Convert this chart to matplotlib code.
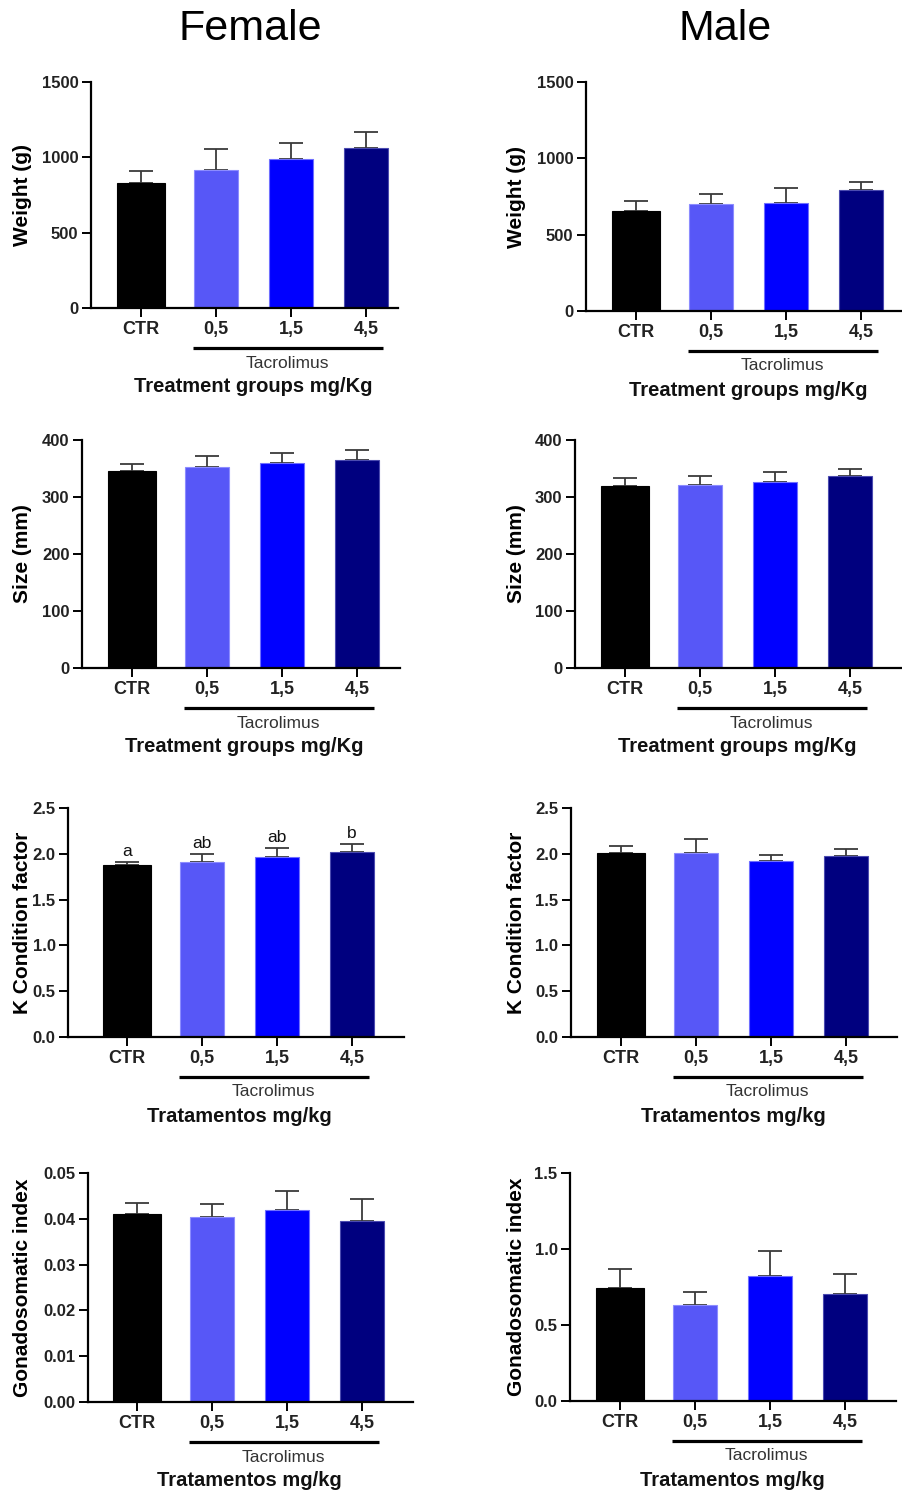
import matplotlib
matplotlib.use('Agg')
import matplotlib.pyplot as plt
import matplotlib.transforms as mtransforms
from matplotlib.ticker import FormatStrFormatter

plt.rcParams['font.family'] = ['Liberation Sans', 'DejaVu Sans']

# groups and colours
groups = ['CTR', '0,5', '1,5', '4,5']
bar_colors = ['#000000', '#5757F7', '#0000FF', '#00007F']

# values (mean and upper error)
female_weight = [827, 916, 987, 1060]
female_weight_err = [82, 137, 106, 106]
male_weight = [655, 699, 705, 793]
male_weight_err = [63, 65, 101, 52]

female_size = [346, 353, 360, 365]
female_size_err = [12, 19, 18, 17]
male_size = [319, 321, 326, 337]
male_size_err = [14, 16, 17, 12]

female_k = [1.874, 1.907, 1.962, 2.023]
female_k_err = [0.036, 0.091, 0.098, 0.081]
female_k_letters = ['a', 'ab', 'ab', 'b']
male_k = [2.005, 2.005, 1.921, 1.976]
male_k_err = [0.080, 0.153, 0.066, 0.073]

female_gsi = [0.0411, 0.0403, 0.0419, 0.0396]
female_gsi_err = [0.0024, 0.0029, 0.0042, 0.0047]
male_gsi = [0.746, 0.634, 0.825, 0.704]
male_gsi_err = [0.125, 0.083, 0.162, 0.134]

W, H = 902, 1495
fig = plt.figure(figsize=(W / 100, H / 100), dpi=100)

# panel layout in pixels: left, right, top, bottom, centre of first bar
panels = [
    (91, 398, 82, 308, 141, female_weight, female_weight_err, 'Weight (g)', 'Treatment groups mg/Kg', [0, 500, 1000, 1500], '%d', None),
    (586, 902, 82, 311, 636, male_weight, male_weight_err, 'Weight (g)', 'Treatment groups mg/Kg', [0, 500, 1000, 1500], '%d', None),
    (82, 400, 440, 668, 132, female_size, female_size_err, 'Size (mm)', 'Treatment groups mg/Kg', [0, 100, 200, 300, 400], '%d', None),
    (575, 901, 440, 668, 625, male_size, male_size_err, 'Size (mm)', 'Treatment groups mg/Kg', [0, 100, 200, 300, 400], '%d', None),
    (68, 404, 808, 1037, 127, female_k, female_k_err, 'K Condition factor', 'Tratamentos mg/kg', [0, 0.5, 1.0, 1.5, 2.0, 2.5], '%.1f', female_k_letters),
    (571, 897, 808, 1037, 621, male_k, male_k_err, 'K Condition factor', 'Tratamentos mg/kg', [0, 0.5, 1.0, 1.5, 2.0, 2.5], '%.1f', None),
    (88, 413, 1173, 1402, 137, female_gsi, female_gsi_err, 'Gonadosomatic index', 'Tratamentos mg/kg', [0, 0.01, 0.02, 0.03, 0.04, 0.05], '%.2f', None),
    (570, 896, 1173, 1401, 620, male_gsi, male_gsi_err, 'Gonadosomatic index', 'Tratamentos mg/kg', [0, 0.5, 1.0, 1.5], '%.1f', None),
]

step = 75.0
x = list(range(len(groups)))

for (L, R, T, B, c0, vals, errs, ylab, xlab, yticks, fmt, letters) in panels:
    ax = fig.add_axes([L / W, 1 - B / H, (R - L) / W, (B - T) / H])
    widths = [0.65, 0.58, 0.58, 0.58]
    edge_cols = ['#000000', '#8c8cff', '#6f6fff', '#4b4bb0']
    ax.bar(x, vals, width=widths, color=bar_colors, edgecolor=edge_cols,
           linewidth=0.8, zorder=2)
    ax.errorbar(x, vals, yerr=[[0] * 4, errs], fmt='none', ecolor='#3a3a3a',
                elinewidth=1.3, capsize=8.5, capthick=1.3, zorder=1)

    ax.set_xlim(-(c0 - L) / step, (R - c0) / step)
    ax.set_ylim(yticks[0], yticks[-1])
    ax.set_yticks(yticks)
    ax.yaxis.set_major_formatter(FormatStrFormatter(fmt))
    ax.set_xticks(x)
    ax.set_xticklabels(groups)

    for s in ['top', 'right']:
        ax.spines[s].set_visible(False)
    for s in ['left', 'bottom']:
        ax.spines[s].set_linewidth(1.6)
    ax.tick_params(axis='both', width=1.4, length=6.5, color='black',
                   labelcolor='#222222')
    ax.tick_params(axis='y', pad=2.5, labelsize=12)
    ax.tick_params(axis='x', pad=3, labelsize=13)
    for lbl in ax.get_xticklabels() + ax.get_yticklabels():
        lbl.set_fontweight('bold')

    ax.set_ylabel(ylab, fontsize=15, fontweight='bold', va='center')
    lab_px = 23 if L < 450 else 516
    ax.yaxis.set_label_coords((lab_px - L) / (R - L), 0.5)

    # Tacrolimus bracket and group labels below the axis
    def below(px):
        return ax.get_xaxis_transform() + mtransforms.ScaledTranslation(0, -px / 100, fig.dpi_scale_trans)

    ax.plot([0.69, 3.23], [0, 0], color='black', lw=2.3, transform=below(40),
            clip_on=False, solid_capstyle='butt')
    ax.text(1.95, 0, 'Tacrolimus', fontsize=12.5, color='#333333',
            ha='center', va='center', transform=below(55))
    ax.text(1.5, 0, xlab, fontsize=14.5, fontweight='bold', color='#111111',
            ha='center', va='center', transform=below(79))

    if letters:
        for xi, v, e, t in zip(x, vals, errs, letters):
            ax.annotate(t, (xi, v + e), xytext=(0, 2.5), textcoords='offset points',
                        ha='center', va='bottom', fontsize=12.5, color='#111111')

fig.text(250 / W, 1 - 29 / H, 'Female', fontsize=31, ha='center', va='center')
fig.text(725 / W, 1 - 29 / H, 'Male', fontsize=31, ha='center', va='center')

fig.savefig('out.png', dpi=100)
